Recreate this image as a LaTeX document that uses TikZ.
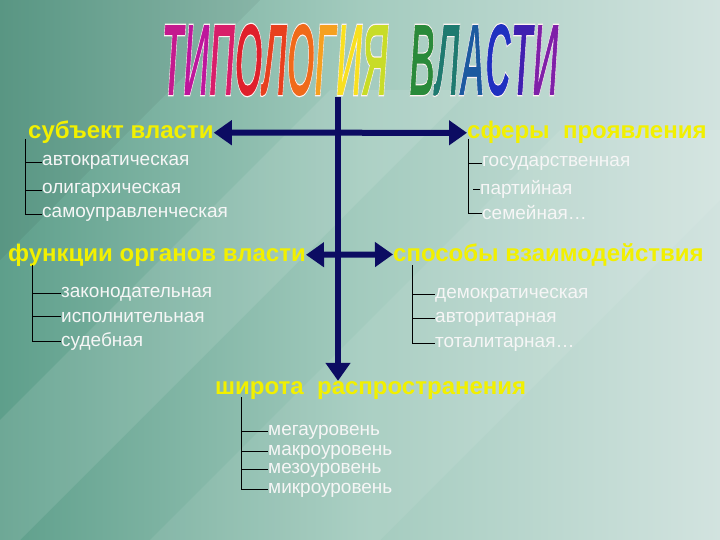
\documentclass[tikz,border=0pt]{standalone}
\usepackage{fontspec}
\setmainfont{Liberation Sans}
\usetikzlibrary{arrows.meta}
\definecolor{bgL}{HTML}{5E9F8B}
\definecolor{bgM}{HTML}{A3CBBE}
\definecolor{bgR}{HTML}{D2E3DF}
\definecolor{navy}{HTML}{0C0C62}
\definecolor{headY}{HTML}{F2F000}
\definecolor{itemW}{HTML}{F6F6F6}
\definecolor{t1}{HTML}{C41A8E}
\definecolor{t2}{HTML}{BE169C}
\definecolor{t3}{HTML}{D81E6A}
\definecolor{t4}{HTML}{E0202C}
\definecolor{t5}{HTML}{E8401E}
\definecolor{t6}{HTML}{F06A1A}
\definecolor{t7}{HTML}{F5A020}
\definecolor{t8}{HTML}{F8E020}
\definecolor{t9}{HTML}{C8DC28}
\definecolor{t10}{HTML}{2A8A3A}
\definecolor{t11}{HTML}{1F7A70}
\definecolor{t12}{HTML}{1D5AA0}
\definecolor{t13}{HTML}{2030C0}
\definecolor{t14}{HTML}{4020B0}
\definecolor{t15}{HTML}{8020A8}
\newcommand{\Ltr}[2]{{\color{#1}\special{pdf:literal direct 2 Tr 0.45 w 1 0.95 0.95 RG}#2}}
\newcommand{\TitleStr}{\scalebox{0.89}[2.6]{\fontsize{40}{40}\selectfont\bfseries\itshape
\Ltr{t1}{Т}\Ltr{t2}{И}\Ltr{t3}{П}\Ltr{t4}{О}\Ltr{t5}{Л}\Ltr{t6}{О}\Ltr{t7}{Г}\Ltr{t8}{И}\Ltr{t9}{Я}\hspace{0.6em}\Ltr{t10}{В}\Ltr{t11}{Л}\Ltr{t12}{А}\Ltr{t13}{С}\Ltr{t14}{Т}\Ltr{t15}{И}\special{pdf:literal direct 0 Tr}}}
\tikzset{
  head/.style={text=headY, font=\fontsize{24}{24}\selectfont\bfseries, inner sep=0pt, anchor=base west},
  item/.style={text=itemW, font=\fontsize{19}{19}\selectfont, inner sep=0pt, anchor=base west},
  brk/.style={black, line width=1pt},
  mainline/.style={navy, line width=6pt},
  tip/.style={-{Triangle[length=18pt,width=24pt]}},
  tips/.style={{Triangle[length=18pt,width=24pt]}-{Triangle[length=18pt,width=24pt]}}
}
\begin{document}
\begin{tikzpicture}[x=1pt,y=-1pt]
\useasboundingbox (0,0) rectangle (720,540);
\shade[left color=bgL, right color=bgR, middle color=bgM] (0,0) rectangle (720,540);
\fill[white, opacity=0.10] (0,420) -- (330,90) -- (470,90) -- (0,560) -- cycle;
\fill[white, opacity=0.08] (150,540) -- (560,130) -- (720,130) -- (720,200) -- (380,540) -- cycle;
\fill[black, opacity=0.05] (0,0) -- (260,0) -- (0,260) -- cycle;
% title
\node[inner sep=0pt] (title) at (360,60) {\TitleStr};
% headers
\node[head] (s1) at (28,139) {субъект власти};
\node[head] (s2) at (467,139) {сферы\ \ проявления};
\node[head] (f) at (8,261) {функции органов власти};
\node[head] (sp) at (393,261) {способы взаимодействия};
\node[head] (w) at (215,394) {широта\ \ распространения};
% items
\node[item] (a1) at (42,166) {автократическая};
\node[item] (a2) at (42,194) {олигархическая};
\node[item] (a3) at (42,218) {самоуправленческая};
\node[item] (b1) at (482,167) {государственная};
\node[item] (b2) at (480,195) {партийная};
\node[item] (b3) at (482,220) {семейная…};
\node[item] (c1) at (61,297) {законодательная};
\node[item] (c2) at (61,322) {исполнительная};
\node[item] (c3) at (61,346) {судебная};
\node[item] (d1) at (435,298) {демократическая};
\node[item] (d2) at (435,322) {авторитарная};
\node[item] (d3) at (435,347) {тоталитарная…};
\node[item] (e1) at (268,435) {мегауровень};
\node[item] (e2) at (268,455) {макроуровень};
\node[item] (e3) at (268,473) {мезоуровень};
\node[item] (e4) at (268,493) {микроуровень};
% brackets
\coordinate (ba) at (25,139);
\coordinate (bb) at (468,139);
\coordinate (bc) at (32,265);
\coordinate (bd) at (412,265);
\coordinate (be) at (241,397);
\draw[brk] (ba) |- (a3.west);
\draw[brk] (ba |- a1.west) -- (a1.west);
\draw[brk] (ba |- a2.west) -- (a2.west);
\draw[brk] (bb) |- (b3.west);
\draw[brk] (bb |- b1.west) -- (b1.west);
\draw[brk] (bb |- b2.west) ++(5,0) -- (b2.west);
\draw[brk] (bc) |- (c3.west);
\draw[brk] (bc |- c1.west) -- (c1.west);
\draw[brk] (bc |- c2.west) -- (c2.west);
\draw[brk] (bd) |- (d3.west);
\draw[brk] (bd |- d1.west) -- (d1.west);
\draw[brk] (bd |- d2.west) -- (d2.west);
\draw[brk] (be) |- (e4.west);
\draw[brk] (be |- e1.west) -- (e1.west);
\draw[brk] (be |- e2.west) -- (e2.west);
\draw[brk] (be |- e3.west) -- (e3.west);
% main arrows
\coordinate (top) at (338,97);
\draw[mainline, tip] (top) -- (top |- w.north);
\draw[mainline, tips] (s1.east) -- (s2.west);
\draw[mainline, tips] (f.east) -- (sp.west);
\end{tikzpicture}
\end{document}
